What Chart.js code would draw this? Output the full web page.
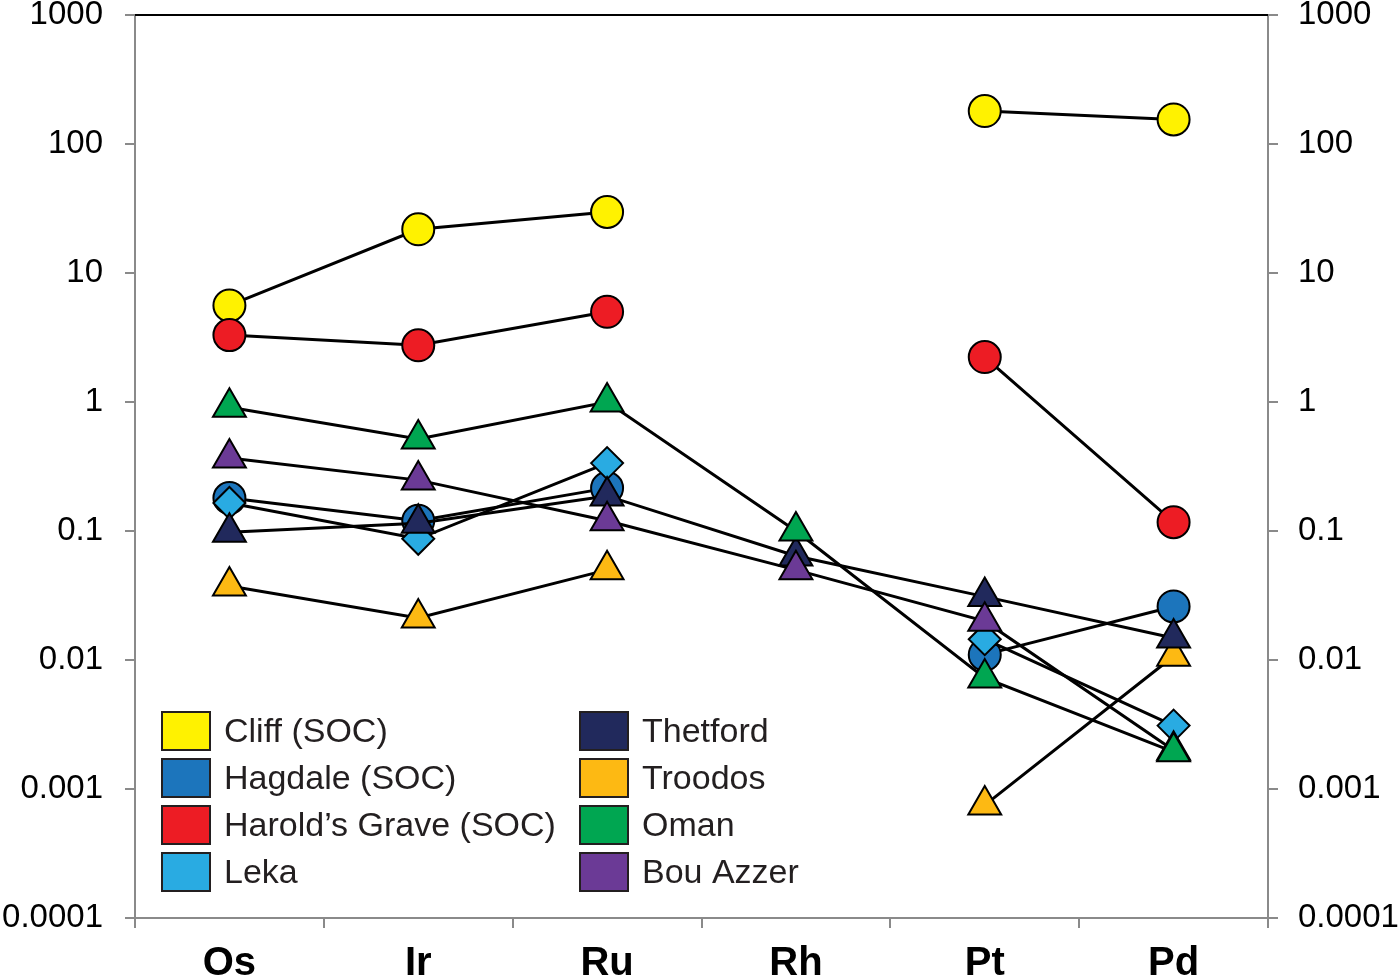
<!DOCTYPE html>
<html>
<head>
<meta charset="utf-8">
<script src="https://cdn.jsdelivr.net/npm/chart.js@4.4.1/dist/chart.umd.min.js"></script>
<style>
  html, body { margin: 0; padding: 0; background: #fff; }
  #wrap { width: 1400px; height: 980px; position: relative; }
</style>
</head>
<body>
<div id="wrap"><canvas id="pgeChart"></canvas></div>
<script>
const elements = ['Os', 'Ir', 'Ru', 'Rh', 'Pt', 'Pd'];

const yTickValues = [0.0001, 0.001, 0.01, 0.1, 1, 10, 100, 1000];
const yTickLabels = ['0.0001', '0.001', '0.01', '0.1', '1', '10', '100', '1000'];

// chondrite-normalised values (null = not plotted)
const cliff    = [5.6, 21.8, 29.7, null, 180, 155];
const hagdale  = [0.18, 0.12, 0.215, null, 0.011, 0.026];
const harolds  = [3.3, 2.75, 5.0, null, 2.23, 0.117];
const leka     = [0.165, 0.087, 0.336, null, 0.0145, 0.0031];
const thetford = [0.098, 0.115, 0.187, 0.064, 0.031, 0.0148];
const troodos  = [0.0375, 0.0212, 0.05, null, 0.00075, 0.0107];
const oman     = [0.91, 0.516, 1.0, 0.1, 0.00725, 0.00194];
const bouAzzer = [0.368, 0.248, 0.12, 0.05, 0.02, 0.002];

const seriesNames  = ['Cliff (SOC)', 'Hagdale (SOC)', 'Harold\u2019s Grave (SOC)', 'Leka',
                      'Thetford', 'Troodos', 'Oman', 'Bou Azzer'];
const seriesData   = [cliff, hagdale, harolds, leka, thetford, troodos, oman, bouAzzer];
const seriesColors = ['#fff200', '#1c75bc', '#ed1c24', '#29abe2',
                      '#21295c', '#fdb913', '#00a651', '#6b3a96'];
const seriesMarks  = ['circle', 'circle', 'circle', 'rectRot',
                      'triangle', 'triangle', 'triangle', 'triangle'];
const seriesOrder  = [7, 5, 6, 4, 2, 3, 0, 1]; // lower = drawn on top

const FONT = '"Liberation Sans", Arial, Helvetica, sans-serif';
const AXIS_GREY = '#8a8a8a';

const datasets = seriesNames.map((name, i) => ({
    label: name,
    data: seriesData[i],
    borderColor: '#000',
    borderWidth: 3,
    backgroundColor: seriesColors[i],
    pointBackgroundColor: seriesColors[i],
    pointBorderColor: '#000',
    pointBorderWidth: 2,
    pointStyle: seriesMarks[i],
    pointRadius: seriesMarks[i] === 'triangle' ? 19 : 16,
    pointHoverRadius: seriesMarks[i] === 'triangle' ? 19 : 16,
    tension: 0,
    spanGaps: false,
    order: seriesOrder[i]
}));

// legend drawn inside the plot, two columns of coloured boxes
const boxLegend = {
    id: 'boxLegend',
    afterDraw(chart) {
        const ctx = chart.ctx;
        const area = chart.chartArea;
        ctx.save();
        ctx.font = '34px ' + FONT;
        ctx.textBaseline = 'middle';
        ctx.textAlign = 'left';
        chart.data.datasets.forEach((ds, i) => {
            const col = Math.floor(i / 4), row = i % 4;
            const x = area.left + 27 + col * 418;
            const y = area.top + 697 + row * 47;
            ctx.fillStyle = ds.pointBackgroundColor;
            ctx.fillRect(x, y, 48, 38);
            ctx.lineWidth = 2;
            ctx.strokeStyle = '#231f20';
            ctx.strokeRect(x, y, 48, 38);
            ctx.fillStyle = '#231f20';
            ctx.fillText(ds.label, x + 62, y + 21);
        });
        ctx.restore();
    }
};

const topBorder = {
    id: 'topBorder',
    afterDatasetsDraw(chart) {
        const { ctx, chartArea } = chart;
        ctx.save();
        ctx.strokeStyle = '#000';
        ctx.lineWidth = 2;
        ctx.beginPath();
        ctx.moveTo(chartArea.left, chartArea.top);
        ctx.lineTo(chartArea.right, chartArea.top);
        ctx.stroke();
        ctx.restore();
    }
};

function logAxis(position, width, pad) {
    return {
        type: 'logarithmic',
        position: position,
        min: 0.0001,
        max: 1000,
        afterBuildTicks: axis => { axis.ticks = yTickValues.map(v => ({ value: v })); },
        afterFit: axis => {
            axis.width = width;
            axis.paddingTop = 0;
            axis.paddingBottom = 0;
        },
        border: { display: true, color: AXIS_GREY, width: 2 },
        grid: { display: true, drawOnChartArea: false, drawTicks: true, tickLength: 10, color: AXIS_GREY, lineWidth: 2 },
        ticks: {
            color: '#000',
            padding: pad,
            font: { family: FONT, size: 33 },
            callback: (v, i) => yTickLabels[i]
        }
    };
}

new Chart(document.getElementById('pgeChart').getContext('2d'), {
    type: 'line',
    data: { labels: elements, datasets: datasets },
    options: {
        responsive: true,
        maintainAspectRatio: false,
        animation: false,
        layout: { autoPadding: false, padding: { top: 15, left: 0, right: 0, bottom: 0 } },
        plugins: {
            legend: { display: false },
            tooltip: { enabled: false }
        },
        scales: {
            x: {
                type: 'category',
                offset: true,
                afterFit: axis => {
                    axis.height = 62;
                    axis.paddingLeft = 0;
                    axis.paddingRight = 0;
                },
                border: { display: true, color: AXIS_GREY, width: 2 },
                grid: { display: true, offset: true, drawOnChartArea: false, drawTicks: true, tickLength: 10, color: AXIS_GREY, lineWidth: 2 },
                ticks: {
                    color: '#000',
                    padding: 12,
                    maxRotation: 0,
                    font: { family: FONT, size: 40, weight: 'bold' }
                }
            },
            y: logAxis('left', 135, 22),
            y2: logAxis('right', 132, 20)
        }
    },
    plugins: [boxLegend, topBorder]
});
</script>
</body>
</html>
